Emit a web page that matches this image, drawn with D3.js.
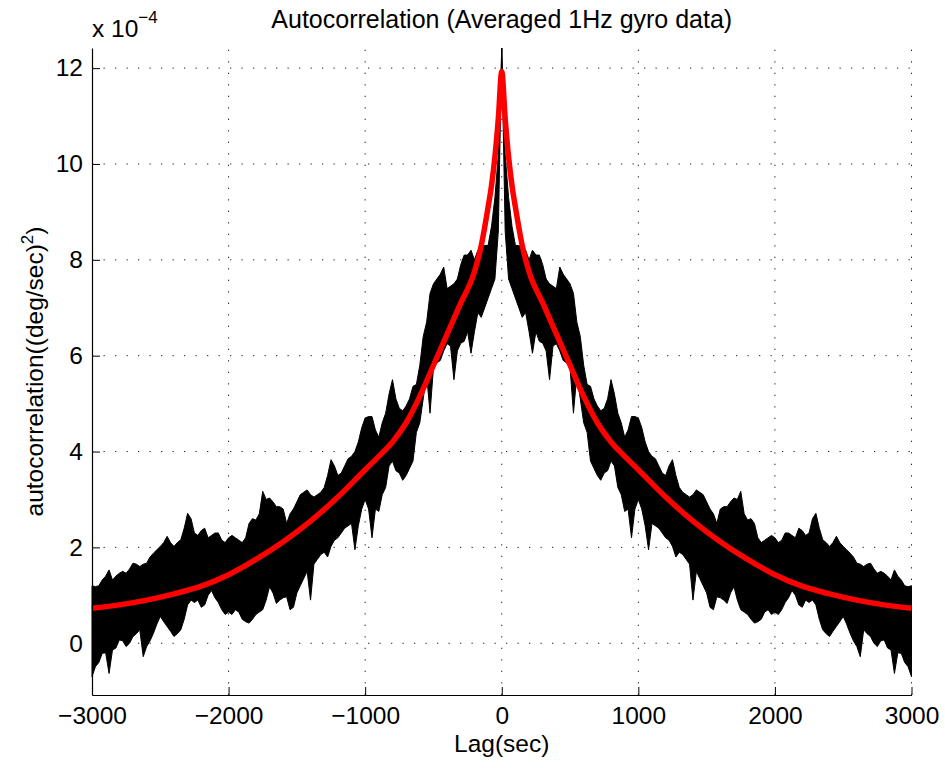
<!DOCTYPE html>
<meta charset="utf-8">
<style>
  body { margin: 0; background: #fff; }
  text { font-family: "Liberation Sans", Arial, Helvetica, sans-serif; fill: #000; }
</style>
<script src="https://d3js.org/d3.v7.min.js"></script>
<body>
<div id="chart"></div>
<script>

// lags are in seconds, values in units of 1e-4 (deg/sec)^2
// the autocorrelation is symmetric, so only lags 0..3000 are kept and mirrored
var lagStep = 25;

// upper edge of the noisy black trace, lag 0, 25, 50 ... 3000
var traceHi = [
  12.42, 10.2, 9.3, 8.7, 8.3, 8.3, 8.25, 8.2,
  8.0, 8.2, 8.1, 8.1, 7.9, 7.6, 7.5, 7.45,
  7.4, 7.85, 7.7, 7.6, 7.5, 7.3, 6.7, 6.4,
  5.8, 5.4, 5.36, 5.1, 4.95, 4.85, 4.9, 5.1,
  5.5, 5.2, 4.8, 4.6, 4.3, 4.45, 4.73, 4.73,
  4.7, 4.5, 4.2, 4.0, 3.9, 3.85, 3.7, 3.55,
  3.5, 3.7, 3.83, 3.5, 3.25, 3.15, 3.1, 3.05,
  3.1, 3.2, 3.15, 3.1, 2.95, 2.8, 2.7, 2.5,
  2.8, 2.85, 2.85, 2.95, 3.03, 3.0, 3.17, 2.7,
  2.57, 2.6, 2.5, 2.2, 2.1, 2.15, 2.2, 2.25,
  2.2, 2.1, 2.15, 2.3, 2.3, 2.25, 2.2, 2.4,
  2.35, 2.25, 2.3, 2.6, 2.71, 2.4, 2.16, 2.1,
  2.02, 2.1, 2.23, 2.1, 2.02, 1.95, 1.88, 1.8,
  1.67, 1.65, 1.6, 1.65, 1.67, 1.55, 1.46, 1.5,
  1.46, 1.4, 1.32, 1.53, 1.4, 1.32, 1.2, 1.18,
  1.2
];

// lower edge of the black trace, same lags
var traceLo = [
  12.42, 8.6, 7.6, 7.4, 7.2, 7.0, 6.8, 6.9,
  6.5, 6.05, 6.5, 6.3, 6.26, 6.1, 5.5, 6.2,
  6.25, 6.1, 5.9, 5.85, 5.75, 4.8, 5.6, 5.1,
  4.6, 4.4, 3.8, 3.65, 3.5, 3.4, 3.55, 3.6,
  3.8, 3.7, 3.25, 3.1, 2.75, 2.8, 2.2, 2.8,
  3.0, 2.8, 2.45, 1.95, 2.5, 2.45, 2.4, 2.3,
  2.2, 2.15, 2.02, 1.8, 1.9, 1.85, 1.75, 1.65,
  0.9, 1.5, 1.35, 1.2, 1.05, 0.75, 0.7, 0.97,
  0.95, 0.9, 0.83, 1.05, 1.18, 0.9, 0.7, 0.65,
  0.6, 0.5, 0.42, 0.45, 0.5, 0.65, 0.7, 0.6,
  0.65, 0.6, 0.7, 0.85, 0.95, 1.1, 1.0, 0.8,
  0.75, 0.9, 0.85, 0.9, 0.8, 0.5, 0.28, 0.2,
  0.14, 0.25, 0.35, 0.45, 0.56, 0.4, 0.21, 0.05,
  -0.07, -0.28, 0.28, 0.2, 0.14, 0.0, -0.07, 0.05,
  0.07, -0.1, -0.14, -0.63, -0.2, -0.21, -0.4, -0.49,
  -0.7
];

// red fitted model, positive lags
var fitLag = [0, 25, 50, 75, 100, 150, 200, 300, 400, 500, 600, 700, 800,
              900, 1000, 1200, 1400, 1600, 1800, 2000, 2200, 2400, 2600, 2800, 3000];
var fitVal = [11.93, 10.95, 10.15, 9.55, 9.1, 8.3, 7.75, 7.1, 6.45, 5.8, 5.15, 4.6, 4.2,
              3.9, 3.62, 3.05, 2.55, 2.12, 1.75, 1.43, 1.19, 1.03, 0.9, 0.8, 0.73];

var xTicks = [-3000, -2000, -1000, 0, 1000, 2000, 3000];
var yTicks = [0, 2, 4, 6, 8, 10, 12];

var width = 945,
    height = 768;

var svg = d3.select("#chart")
  .append("svg")
    .attr("width", width)
    .attr("height", height)
    .style("background", "#fff");

var x = d3.scaleLinear().domain([-3000, 3000]).range([92, 911.5]);
var y = d3.scaleLinear().domain([-1.08, 12.42]).range([695, 48]);

// grid (dotted)
var grid = svg.append("g")
  .attr("stroke", "#222")
  .attr("stroke-width", 1)
  .attr("stroke-dasharray", "1.3,10.2");

grid.selectAll(".gx")
  .data(xTicks.slice(1))
  .enter().append("line")
    .attr("x1", d => x(d)).attr("x2", d => x(d))
    .attr("y1", y.range()[0]).attr("y2", y.range()[1]);

grid.selectAll(".gy")
  .data(yTicks)
  .enter().append("line")
    .attr("x1", x.range()[0]).attr("x2", x.range()[1])
    .attr("y1", d => y(d)).attr("y2", d => y(d));

// full trace: mirror positive lags to negative side
var trace = [];
for (var i = traceHi.length - 1; i > 0; i--) trace.push({ lag: -i * lagStep, hi: traceHi[i], lo: traceLo[i] });
for (var i = 0; i < traceHi.length; i++) trace.push({ lag: i * lagStep, hi: traceHi[i], lo: traceLo[i] });

var band = d3.area()
  .x(d => x(d.lag))
  .y0(d => y(d.lo))
  .y1(d => y(d.hi));

svg.append("path")
  .datum(trace)
  .attr("fill", "#000")
  .attr("stroke", "#000")
  .attr("stroke-width", 1)
  .attr("stroke-linejoin", "miter")
  .attr("d", band);

// fit curve
var fit = [];
for (var i = fitLag.length - 1; i > 0; i--) fit.push([-fitLag[i], fitVal[i]]);
for (var i = 0; i < fitLag.length; i++) fit.push([fitLag[i], fitVal[i]]);

var line = d3.line()
  .x(d => x(d[0]))
  .y(d => y(d[1]))
  .curve(d3.curveMonotoneX);

svg.append("path")
  .datum(fit)
  .attr("fill", "none")
  .attr("stroke", "#ff0000")
  .attr("stroke-width", 5.5)
  .attr("stroke-linejoin", "round")
  .attr("d", line);

// axes
svg.append("g")
  .attr("transform", "translate(0," + y.range()[0] + ")")
  .call(d3.axisBottom(x).tickValues(xTicks).tickFormat(d3.format("d"))
    .tickSizeInner(-8).tickSizeOuter(0).tickPadding(12));

svg.append("g")
  .attr("transform", "translate(" + x.range()[0] + ",0)")
  .call(d3.axisLeft(y).tickValues(yTicks).tickFormat(d3.format("d"))
    .tickSizeInner(-8).tickSizeOuter(0).tickPadding(9));

svg.selectAll(".domain").attr("stroke", "#000").attr("stroke-width", 1.2);
svg.selectAll(".tick line").attr("stroke", "#000");
svg.selectAll(".tick text")
  .attr("font-family", "Liberation Sans, Arial, sans-serif")
  .attr("font-size", 24.5)
  .attr("fill", "#000");

// labels
svg.append("text")
  .attr("x", (x.range()[0] + x.range()[1]) / 2)
  .attr("y", 28)
  .attr("text-anchor", "middle")
  .attr("font-size", 25)
  .text("Autocorrelation (Averaged 1Hz gyro data)");

svg.append("text")
  .attr("x", (x.range()[0] + x.range()[1]) / 2)
  .attr("y", 752)
  .attr("text-anchor", "middle")
  .attr("font-size", 24.5)
  .text("Lag(sec)");

var ylab = svg.append("text")
  .attr("transform", "translate(43," + (y.range()[0] + y.range()[1]) / 2 + ") rotate(-90)")
  .attr("text-anchor", "middle")
  .attr("font-size", 24.5);
ylab.append("tspan").text("autocorrelation((deg/sec)");
ylab.append("tspan").attr("dy", -10).attr("font-size", 17).text("2");
ylab.append("tspan").attr("dy", 10).text(")");

var expo = svg.append("text")
  .attr("x", 92)
  .attr("y", 37)
  .attr("font-size", 24.5);
expo.append("tspan").text("x 10");
expo.append("tspan").attr("dy", -14).attr("font-size", 17).text("\u22124");

</script>
</body>
